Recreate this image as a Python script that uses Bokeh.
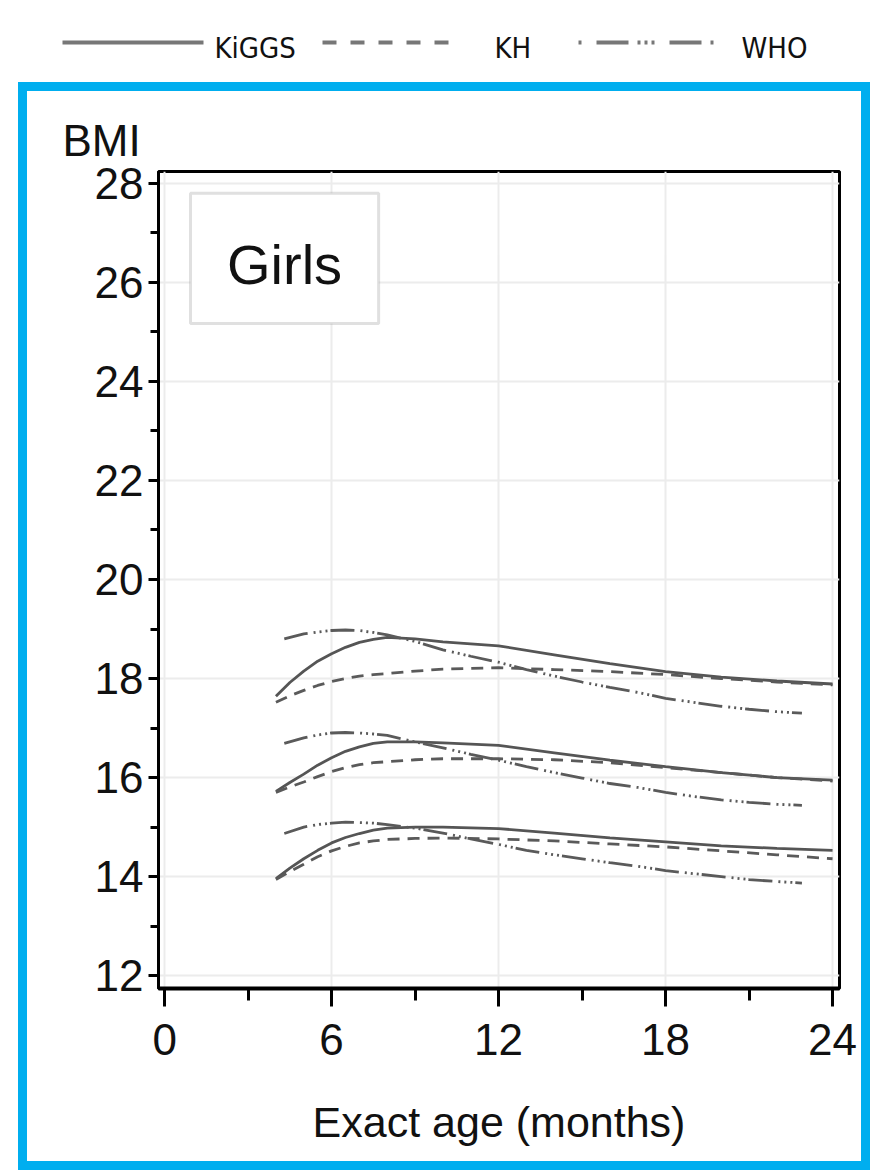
from bokeh.plotting import figure
from bokeh.models import Range1d, FixedTicker, Label, BoxAnnotation
from bokeh.layouts import column
from bokeh.embed import file_html
from bokeh.resources import INLINE
from bokeh.core.properties import value

# ---------------- data ----------------
ages = [4, 4.5, 5, 5.5, 6, 6.5, 7, 7.5, 8, 9, 10, 12, 14, 16, 18, 20, 22, 24]
kiggs_upper = [17.64, 17.92, 18.15, 18.35, 18.50, 18.63, 18.73, 18.79, 18.83, 18.80, 18.74, 18.66, 18.48, 18.30, 18.14, 18.03, 17.95, 17.89]
kiggs_middle = [15.72, 15.90, 16.07, 16.25, 16.40, 16.53, 16.62, 16.69, 16.72, 16.72, 16.70, 16.65, 16.50, 16.35, 16.22, 16.10, 16.00, 15.95]
kiggs_lower = [13.96, 14.17, 14.36, 14.53, 14.68, 14.79, 14.87, 14.94, 14.98, 15.00, 15.00, 14.97, 14.88, 14.78, 14.70, 14.62, 14.57, 14.53]
kh_upper = [17.52, 17.65, 17.76, 17.86, 17.94, 18.00, 18.05, 18.08, 18.10, 18.15, 18.19, 18.22, 18.18, 18.14, 18.08, 18.00, 17.93, 17.87]
kh_middle = [15.70, 15.81, 15.91, 16.02, 16.12, 16.20, 16.26, 16.30, 16.32, 16.36, 16.38, 16.38, 16.36, 16.30, 16.20, 16.10, 16.00, 15.93]
kh_lower = [13.94, 14.10, 14.25, 14.40, 14.52, 14.61, 14.68, 14.72, 14.75, 14.77, 14.78, 14.76, 14.72, 14.66, 14.60, 14.52, 14.44, 14.36]

who_ages = [4.3, 5, 5.5, 6, 6.5, 7, 7.5, 8, 9, 10, 11, 12, 13, 14, 15, 16, 17, 18, 19, 20, 21, 22, 22.9]
who_upper = [18.80, 18.90, 18.94, 18.97, 18.98, 18.97, 18.93, 18.88, 18.75, 18.58, 18.45, 18.33, 18.18, 18.05, 17.93, 17.82, 17.72, 17.60, 17.52, 17.44, 17.38, 17.33, 17.30]
who_middle = [16.69, 16.80, 16.86, 16.90, 16.91, 16.90, 16.88, 16.85, 16.72, 16.60, 16.47, 16.35, 16.22, 16.10, 15.99, 15.88, 15.80, 15.70, 15.62, 15.55, 15.50, 15.46, 15.44]
who_lower = [14.87, 15.00, 15.05, 15.08, 15.10, 15.09, 15.08, 15.05, 14.98, 14.88, 14.76, 14.65, 14.53, 14.44, 14.36, 14.28, 14.21, 14.12, 14.06, 14.00, 13.94, 13.90, 13.87]

x_ticks = [0, 6, 12, 18, 24]
x_minor = [3, 9, 15, 21]
y_ticks = [12, 14, 16, 18, 20, 22, 24, 26, 28]
y_minor = [13, 15, 17, 19, 21, 23, 25, 27]

series_names = ["KiGGS", "KH", "WHO"]
panel_label = "Girls"
x_label = "Exact age (months)"
y_label = "BMI"

# ---------------- styles / layout constants ----------------
FONT = "Liberation Sans"
NARROW = "DejaVu Sans Condensed"
LINE = "#5a5a5a"
BLUE = "#00AEEF"
series_dash = ["solid", "12 8", "24 6 2 4 2 4 2 3"]
legend_dash = ["solid", "14 14", "32 9 3 4 3 4 3 15"]
legend_dash_offset = [0, 0, 55]
# legend strip layout (strip pixel space)
legend_line_start = [62, 322, 578]
legend_line_end = [203, 453, 713]
legend_text_x = [214, 494, 741]
legend_line_y = 42
legend_text_y = 47

# ---------------- legend strip ----------------
lg = figure(width=860, height=82, x_range=Range1d(0, 860), y_range=Range1d(82, 0),
            output_backend="svg", toolbar_location=None, min_border=0,
            x_axis_type=None, y_axis_type=None, outline_line_color=None)
lg.frame_align = False
lg.grid.visible = False
for i, name in enumerate(series_names):
    lg.line([legend_line_start[i], legend_line_end[i]], [legend_line_y, legend_line_y],
            line_color="#777777", line_width=4, line_dash=legend_dash[i],
            line_dash_offset=legend_dash_offset[i])
    lg.text([legend_text_x[i]], [legend_text_y], text=[name], text_font=value(NARROW),
            text_font_size="29px", text_align="left", text_baseline="middle",
            text_color="#111111")

# ---------------- main chart ----------------
p = figure(width=852, height=1088, x_range=Range1d(-0.22, 24.25), y_range=Range1d(11.74, 28.24),
           output_backend="svg", toolbar_location=None,
           min_border_left=131, min_border_right=40, min_border_top=80, min_border_bottom=191,
           margin=(0, 0, 0, 18), styles={"border": "9px solid " + BLUE})
p.frame_align = False
p.background_fill_color = "white"
p.border_fill_color = "white"
p.outline_line_color = "black"
p.outline_line_width = 3

p.title.text = y_label
p.title.text_font = FONT
p.title.text_font_size = "44px"
p.title.text_font_style = "normal"
p.title.text_color = "#111111"
p.title.align = "left"
p.title.offset = -96
p.title.standoff = 14

xt = FixedTicker(ticks=x_ticks, minor_ticks=x_minor)
yt = FixedTicker(ticks=y_ticks, minor_ticks=y_minor)
p.xaxis.ticker = xt
p.yaxis.ticker = yt
p.xgrid.ticker = xt
p.ygrid.ticker = yt
p.grid.grid_line_color = "#ececec"
p.grid.grid_line_width = 2

for ax in (p.xaxis, p.yaxis):
    ax.axis_line_color = "black"
    ax.major_tick_line_color = "black"
    ax.minor_tick_line_color = "black"
    ax.major_tick_in = 0
    ax.minor_tick_in = 0
    ax.major_label_text_font = FONT
    ax.major_label_text_font_size = "44px"
    ax.major_label_text_color = "#111111"

p.xaxis.axis_line_width = 4
p.xaxis.major_tick_line_width = 3
p.xaxis.minor_tick_line_width = 3
p.xaxis.major_tick_out = 18
p.xaxis.minor_tick_out = 12
p.xaxis.major_label_standoff = 17
p.xaxis.axis_label = x_label
p.xaxis.axis_label_text_font = FONT
p.xaxis.axis_label_text_font_size = "43px"
p.xaxis.axis_label_text_font_style = "normal"
p.xaxis.axis_label_text_color = "#111111"
p.xaxis.axis_label_standoff = 40

p.yaxis.axis_line_width = 3
p.yaxis.major_tick_line_width = 3
p.yaxis.minor_tick_line_width = 3
p.yaxis.major_tick_out = 10
p.yaxis.minor_tick_out = 8
p.yaxis.major_label_standoff = 5

# KiGGS (solid)
for ys in (kiggs_upper, kiggs_middle, kiggs_lower):
    p.line(ages, ys, line_color="#555555", line_width=2.8, line_dash=series_dash[0])
# KH (dashed)
for ys in (kh_upper, kh_middle, kh_lower):
    p.line(ages, ys, line_color=LINE, line_width=2.8, line_dash=series_dash[1])
# WHO (dash-dot-dot)
for ys in (who_upper, who_middle, who_lower):
    p.line(who_ages, ys, line_color=LINE, line_width=2.8, line_dash=series_dash[2])

box = BoxAnnotation(left=0.93, right=7.69, bottom=25.17, top=27.8,
                    fill_color="white", fill_alpha=1.0,
                    line_color="#999999", line_width=3)
p.add_layout(box)
p.add_layout(Label(x=4.31, y=26.36, text=panel_label, text_align="center",
                   text_baseline="middle", text_font=FONT, text_font_size="56px",
                   text_color="#111111"))

layout = column(lg, p, spacing=0)
open("out.html", "w").write(file_html(layout, INLINE))
